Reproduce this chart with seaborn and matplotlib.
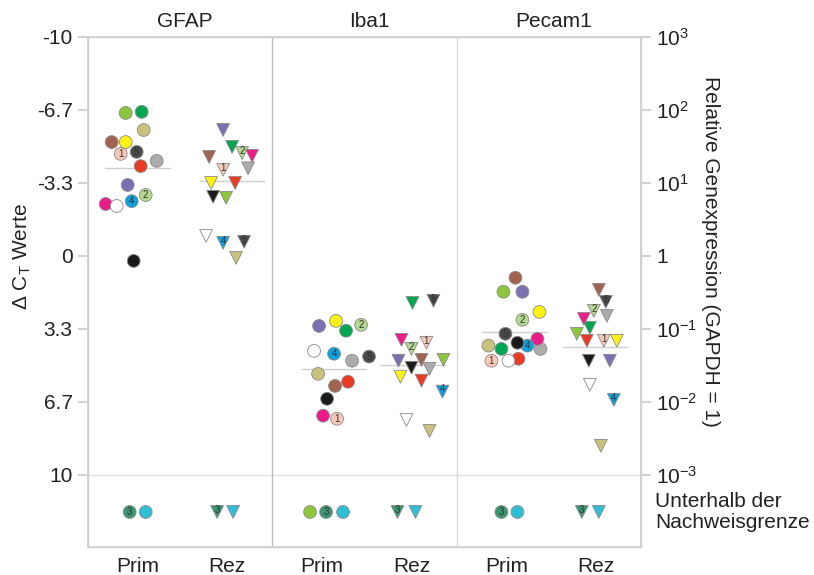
import numpy as np
import pandas as pd
import seaborn as sns
import matplotlib.pyplot as plt
import matplotlib.transforms as mtransforms

# Samples (17 tumours), colour and optional number printed in the marker
samples = ["hellgruen", "gruen", "khaki", "braun", "gelb", "rosa", "dunkelgrau", "grau",
           "rot", "violett", "lindgruen", "magenta", "weiss", "blau", "schwarz", "petrol", "cyan"]
sample_colors = ["#8cc63e", "#00a650", "#c9c27c", "#a26350", "#fff212", "#f8c9b8", "#4a4a4a", "#ababab",
                 "#ea3a24", "#7a70b3", "#b3d78d", "#ea1c8a", "#ffffff", "#0aa0dc", "#1b1b1b", "#3a9670", "#2ebed6"]
sample_numbers = ["", "", "", "", "", "1", "5", "", "", "", "2", "", "", "4", "", "3", ""]

genes = ["GFAP", "Iba1", "Pecam1"]
groups = ["Prim", "Rez"]

# Delta Ct values per sample (None = below detection limit)
gfap_prim = [-6.53, -6.58, -5.75, -5.2, -5.2, -4.66, -4.75, -4.34, -4.1, -3.24, -2.78, -2.37, -2.28, -2.5, 0.23, None, None]
gfap_rez = [-2.65, -4.98, 0.09, -4.52, -3.33, -3.93, -0.64, -4.0, -3.33, -5.75, -4.7, -4.57, -0.91, -0.6, -2.7, None, None]
iba1_prim = [None, 3.42, 5.39, 5.94, 2.97, 7.44, 4.6, 4.79, 5.75, 3.2, 3.15, 7.3, 4.34, 4.47, 6.53, None, None]
iba1_rez = [4.75, 2.15, 8.0, 4.75, 5.52, 3.97, 2.05, 5.16, 5.7, 4.79, 4.25, 3.84, 7.5, 6.2, 5.11, None, None]
pecam1_prim = [1.64, 4.25, 4.1, 1.0, 2.56, 4.79, 3.56, 4.25, 4.7, 1.64, 2.92, 3.79, 4.79, 4.1, 3.97, None, None]
pecam1_rez = [3.56, 3.29, 8.68, 1.55, 3.88, 3.88, 2.1, 2.74, 3.88, 4.79, 2.51, 2.88, 5.89, 6.58, 4.79, None, None]

# group means (grey lines)
mean_values = {("GFAP", "Prim"): -4.0, ("GFAP", "Rez"): -3.42,
               ("Iba1", "Prim"): 5.16, ("Iba1", "Rez"): 4.98,
               ("Pecam1", "Prim"): 3.47, ("Pecam1", "Rez"): 4.16}

values = {("GFAP", "Prim"): gfap_prim, ("GFAP", "Rez"): gfap_rez,
          ("Iba1", "Prim"): iba1_prim, ("Iba1", "Rez"): iba1_rez,
          ("Pecam1", "Prim"): pecam1_prim, ("Pecam1", "Rez"): pecam1_rez}

# horizontal spread of the markers inside a group (pixels in the original)
spread = {("GFAP", "Prim"): [-12, 4, 6, -26, -12, -17, -1, 19, 3, -10, 8, -32, -21, -6, -4, -8, 8],
          ("GFAP", "Rez"): [-1, 5, 9, -18, -16, -4, 17, 21, 8, -4, 15, 25, -21, -4, -14, -10, 6],
          ("Iba1", "Prim"): [-12, 24, -4, 13, 14, 15, 47, 30, 26, -3, 39, 1, -8, 12, 5, 4, 21],
          ("Iba1", "Rez"): [32, 1, 18, 10, -11, 15, 22, 18, 10, -13, 0, -10, -5, 31, 0, -14, 4],
          ("Pecam1", "Prim"): [-3, -5, -18, 9, 33, -15, -1, 34, 12, 16, 16, 31, 2, 21, 11, -5, 11],
          ("Pecam1", "Rez"): [-19, -6, 5, 3, 21, 8, 10, 11, -9, 14, -2, -12, -6, 18, -7, -14, 3]}
mean_offset = {("GFAP", "Prim"): 0, ("GFAP", "Rez"): 5, ("Iba1", "Prim"): 12,
               ("Iba1", "Rez"): 1, ("Pecam1", "Prim"): 8, ("Pecam1", "Rez"): -1}
group_pos = {"Prim": 0.54, "Rez": 1.51}
px = 92.2            # pixels per x unit
below_y = 11.7       # row for "below detection limit"

rows = []
for gi, gene in enumerate(genes):
    for group in groups:
        for si, s in enumerate(samples):
            v = values[(gene, group)][si]
            x = gi * 2 + group_pos[group] + spread[(gene, group)][si] / px
            rows.append(dict(gene=gene, group=group, sample=s, dct=v,
                             x=x, y=below_y if v is None else v, num=sample_numbers[si]))
df = pd.DataFrame(rows)

sns.set_theme(style="white")
plt.rcParams["font.family"] = ["Liberation Sans", "DejaVu Sans"]
plt.rcParams["mathtext.fontset"] = "custom"
plt.rcParams["mathtext.rm"] = "Liberation Sans"
plt.rcParams["mathtext.it"] = "Liberation Sans:italic"

fs = 15
txt = "#222222"

fig, ax = plt.subplots(figsize=(8.14, 5.75), dpi=100)
fig.subplots_adjust(left=0.108, right=0.7875, top=0.9357, bottom=0.0487)

# mean lines
for gi, gene in enumerate(genes):
    for group in groups:
        c = gi * 2 + group_pos[group] + mean_offset[(gene, group)] / px
        ax.plot([c - 0.35, c + 0.35], [mean_values[(gene, group)]] * 2, color="#cfcfcf", lw=1, zorder=1)

ax.axhline(10, color="#e2e2e2", lw=1, zorder=0)
ax.axvline(2, color="#bdbdbd", lw=1, zorder=0)
ax.axvline(4, color="#dadada", lw=1, zorder=0)

sns.scatterplot(data=df, x="x", y="y", hue="sample", palette=dict(zip(samples, sample_colors)),
                style="group", markers={"Prim": "o", "Rez": "v"}, s=85,
                edgecolor="#8a8a8a", linewidth=0.6, legend=False, ax=ax, zorder=3)

for _, r in df[df["num"] != ""].iterrows():
    dy = 1.5 if r["group"] == "Rez" else 0
    ax.annotate(r["num"], (r["x"], r["y"]), xytext=(0, dy), textcoords="offset points",
                ha="center", va="center", fontsize=7, color="#333333", zorder=4)

ax.set_xlim(0, 6)
ax.set_ylim(13.3, -10)
yt = [-10, -10 / 3 * 2, -10 / 3, 0, 10 / 3, 20 / 3, 10]
ax.set_yticks(yt)
ax.set_yticklabels(["-10", "-6.7", "-3.3", "0", "3.3", "6.7", "10"])
ax.set_xticks([gi * 2 + group_pos[g] for gi in range(3) for g in groups])
ax.set_xticklabels(groups * 3)
ax.tick_params(axis="y", left=True, length=7, color="#cccccc", labelsize=fs, pad=4, labelcolor=txt)
ax.tick_params(axis="x", length=0, labelsize=fs, pad=7, labelcolor=txt)
ax.set_xlabel("")
ax.set_ylabel(r"$\Delta$ C$_\mathregular{T}$ Werte", fontsize=fs, color=txt, va="center")
ax.yaxis.set_label_coords(-0.119, 0.57)
for sp in ax.spines.values():
    sp.set_color("#d0d0d0")
    sp.set_linewidth(1)

ax2 = ax.twinx()
ax2.set_ylim(ax.get_ylim())
ax2.set_yticks(yt)
ax2.set_yticklabels([r"$\mathregular{10^{3}}$", r"$\mathregular{10^{2}}$", r"$\mathregular{10^{1}}$", "1",
                     r"$\mathregular{10^{-1}}$", r"$\mathregular{10^{-2}}$", r"$\mathregular{10^{-3}}$"])
ax2.tick_params(axis="y", right=True, length=7, color="#cccccc", labelsize=fs, pad=4, labelcolor=txt)
ax2.set_ylabel("Relative Genexpression (GAPDH = 1)", rotation=270, fontsize=fs, color=txt,
               va="center", ha="center")
ax2.yaxis.set_label_coords(1.125, 0.58)
for sp in ax2.spines.values():
    sp.set_color("#d0d0d0")

trans = mtransforms.blended_transform_factory(ax.transData, ax.transAxes)
for gi, gene in enumerate(genes):
    ax.text(gi * 2 + 1.05, 1.03, gene, transform=trans, ha="center", va="center", fontsize=fs, color=txt)

trans2 = mtransforms.blended_transform_factory(ax.transAxes, ax.transData)
ax.text(1.025, below_y, "Unterhalb der\nNachweisgrenze", transform=trans2, ha="left", va="center",
        fontsize=fs, color=txt, linespacing=1.1)

fig.savefig("out.png", dpi=100)
